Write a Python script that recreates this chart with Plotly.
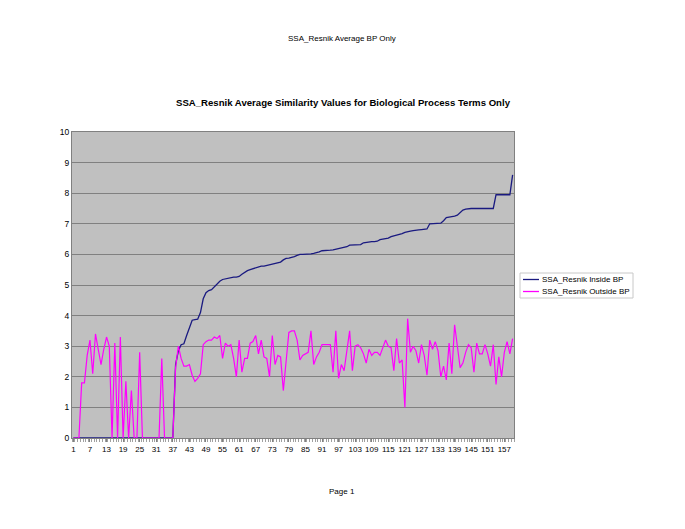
import plotly.graph_objects as go

categories = list(range(1, 161))

inside_bp = (
    [0.0] * 37 +
    [2.4, 2.85, 3.05, 3.08, 3.35, 3.6, 3.85, 3.87, 3.88, 4.1,
     4.55, 4.75, 4.82, 4.85, 4.95, 5.05, 5.12, 5.18, 5.2, 5.22,
     5.25, 5.26, 5.26, 5.28, 5.35, 5.42, 5.47, 5.5, 5.53, 5.56,
     5.6, 5.62, 5.62, 5.64, 5.66, 5.68, 5.7, 5.72, 5.75, 5.82,
     5.87, 5.88, 5.9, 5.93, 5.97,
     6.0, 6.0, 6.0, 6.02, 6.02, 6.03, 6.05, 6.08, 6.12, 6.12,
     6.13, 6.14, 6.15, 6.17, 6.18, 6.2, 6.22, 6.25, 6.3, 6.3,
     6.3, 6.3, 6.32, 6.38, 6.4, 6.4, 6.42, 6.42, 6.43, 6.48,
     6.5, 6.5, 6.53, 6.58, 6.6, 6.62, 6.65, 6.68, 6.72, 6.75,
     6.76, 6.78, 6.8, 6.8, 6.81, 6.82, 6.83, 7.0, 7.0, 7.0,
     7.01, 7.02, 7.1, 7.2, 7.22, 7.23, 7.25, 7.28, 7.35, 7.45,
     7.48, 7.5, 7.5, 7.5, 7.5, 7.5, 7.5, 7.5, 7.5, 7.5,
     7.5, 7.95, 7.95, 7.95, 7.95, 7.95, 7.95, 8.6]
)

outside_bp = [
    0, 0, 0, 1.8, 1.8, 2.7, 3.2, 2.1, 3.4, 2.9,
    2.4, 2.9, 3.3, 3.0, 0, 3.1, 0, 3.3, 0, 1.85,
    0, 1.55, 0, 0, 2.8, 0, 0, 0, 0, 0,
    0, 0, 2.6, 0, 0, 0, 0, 2.3, 3.0, 2.6,
    2.35, 2.35, 2.4, 2.05, 1.85, 1.95, 2.1, 3.05, 3.15, 3.2,
    3.2, 3.3, 3.25, 3.35, 2.6, 3.1, 3.0, 3.05, 2.6, 2.0,
    3.2, 2.15, 2.6, 2.6, 3.1, 3.15, 3.35, 2.75, 3.2, 2.65,
    2.6, 2.0, 3.35, 2.4, 2.7, 2.65, 1.55, 2.5, 3.45, 3.5,
    3.5, 3.2, 2.55, 2.7, 2.75, 2.8, 3.5, 2.4, 2.65, 2.8,
    3.05, 3.05, 3.05, 3.05, 2.15, 3.5, 1.95, 2.4, 2.2, 2.8,
    3.5, 2.2, 3.0, 3.05, 2.95, 2.75, 2.45, 2.9, 2.7, 2.8,
    2.8, 2.7, 2.95, 3.2, 3.0, 2.95, 2.2, 3.25, 2.45, 2.55,
    1.0, 3.9, 2.8, 3.0, 2.85, 2.45, 3.05, 2.7, 2.05, 3.2,
    2.9, 3.15, 2.85, 2.0, 2.35, 1.9, 3.1, 2.1, 3.7, 2.9,
    2.3, 2.45, 2.8, 3.05, 2.95, 2.15, 3.1, 2.75, 2.75, 3.05,
    2.75, 2.35, 3.05, 1.75, 2.65, 2.0, 2.8, 3.15, 2.75, 3.25,
]

series_names = ["SSA_Resnik Inside BP", "SSA_Resnik Outside BP"]
series_colors = ["#1a1a80", "#ff00ff"]

tick_values = list(range(1, 161, 6))
tick_labels = [str(v) for v in tick_values]
y_ticks = list(range(0, 11))

FONT = "Liberation Sans, Arial, sans-serif"

W, H = 685, 529
L, R, T, B = 72, 171, 132, 91
PW, PH = W - L - R, H - T - B


def px_x(x):
    return (x - L) / PW


def px_y(y):
    return (H - B - y) / PH


fig = go.Figure()
for name, vals, col, w in zip(series_names, [inside_bp, outside_bp], series_colors, [1.3, 1.2]):
    fig.add_trace(go.Scatter(
        x=categories, y=vals, mode="lines", name=name,
        line=dict(color=col, width=w), showlegend=False,
    ))

# custom compact legend (Excel style)
shapes = [dict(type="rect", xref="paper", yref="paper",
               x0=px_x(520), x1=px_x(633), y0=px_y(298), y1=px_y(273),
               line=dict(color="#c8c8c8", width=1), fillcolor="white", layer="above")]
annots = []
for i, (name, col) in enumerate(zip(series_names, series_colors)):
    yy = 279.5 + i * 12
    shapes.append(dict(type="line", xref="paper", yref="paper",
                       x0=px_x(523), x1=px_x(539), y0=px_y(yy), y1=px_y(yy),
                       line=dict(color=col, width=1.3)))
    annots.append(dict(text=name, xref="paper", yref="paper",
                       x=px_x(540), y=px_y(yy), xanchor="left", yanchor="middle",
                       showarrow=False, font=dict(family=FONT, size=8)))

annots += [
    dict(text="SSA_Resnik Average BP Only", xref="paper", yref="paper",
         x=px_x(342), y=px_y(38), xanchor="center", yanchor="middle",
         showarrow=False, font=dict(family=FONT, size=8)),
    dict(text="Page 1", xref="paper", yref="paper",
         x=px_x(342), y=px_y(491), xanchor="center", yanchor="middle",
         showarrow=False, font=dict(family=FONT, size=8)),
]

fig.update_layout(
    width=W, height=H,
    margin=dict(l=L, r=R, t=T, b=B),
    paper_bgcolor="white",
    plot_bgcolor="#c0c0c0",
    font=dict(family=FONT, size=9, color="black"),
    title=dict(
        text="<b>SSA_Resnik Average Similarity Values for Biological Process Terms Only</b>",
        x=343 / W, xanchor="center", y=1 - 103 / H, yanchor="middle",
        font=dict(family=FONT, size=9.6, color="black"),
    ),
    showlegend=False,
    shapes=shapes,
    annotations=annots,
)

fig.update_xaxes(
    range=[0.5, 160.5],
    tickmode="array", tickvals=tick_values, ticktext=tick_labels,
    tickangle=0,
    ticks="outside", ticklen=3, tickcolor="#808080",
    minor=dict(dtick=1, tick0=0.5, ticks="outside", ticklen=3, tickcolor="#a0a0a0", showgrid=False),
    showgrid=False, zeroline=False,
    showline=True, linecolor="#808080", linewidth=1, mirror=True,
    tickfont=dict(family=FONT, size=8),
)
fig.update_yaxes(
    range=[0, 10],
    tickmode="array", tickvals=y_ticks,
    showgrid=True, gridcolor="#808080", gridwidth=1,
    zeroline=False, ticks="",
    showline=True, linecolor="#808080", linewidth=1, mirror=True,
    tickfont=dict(family=FONT, size=8.5),
)

fig.write_html("out.html")
